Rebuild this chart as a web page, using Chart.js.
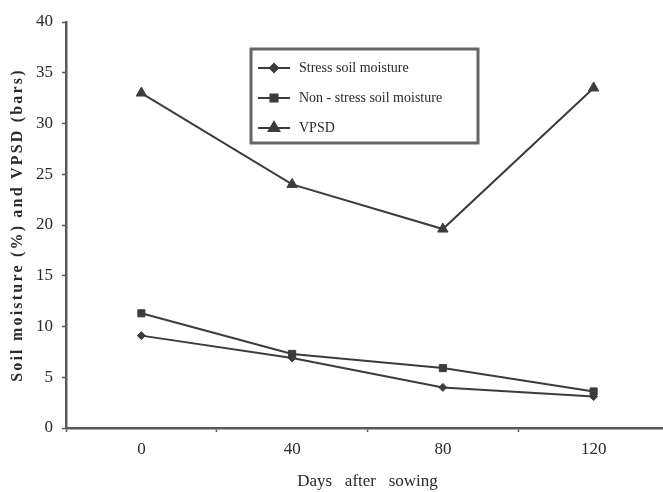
<!DOCTYPE html>
<html>
<head>
<meta charset="utf-8">
<script src="https://cdn.jsdelivr.net/npm/chart.js@4/dist/chart.umd.min.js"></script>
<style>
  html, body { margin: 0; padding: 0; background: #fff; overflow: hidden; }
  /* the original x axis runs a little past the right edge of the figure */
  #wrap { width: 663px; height: 492px; overflow: hidden; }
</style>
</head>
<body>
<div id="wrap"><canvas id="soilChart" width="676" height="492"></canvas></div>
<script>
// days after sowing
const days = ["0", "40", "80", "120"];

// soil moisture (%) and VPSD (bars)
const stressMoisture = [9.1, 6.9, 4.0, 3.1];
const nonStressMoisture = [11.3, 7.3, 5.9, 3.6];
const vpsd = [33.0, 24.0, 19.6, 33.5];

const yTicks = [0, 5, 10, 15, 20, 25, 30, 35, 40];

const ink = "#3c3c3c";
const axisInk = "#5a5a5a";
const textInk = "#2a2a2a";
const serif = "'Liberation Serif', 'Times New Roman', serif";

function series(label, values, pointStyle, radius) {
  return {
    label: label,
    data: values,
    borderColor: ink,
    backgroundColor: ink,
    borderWidth: 2,
    pointStyle: pointStyle,
    pointRadius: radius,
    pointBorderWidth: 1,
    tension: 0,
    fill: false,
  };
}

// the printed y title is set with loose letter spacing
const spacedTitle = {
  id: "spacedTitle",
  afterLayout(chart) {
    const scale = chart.scales.y;
    if (scale._spaced) return;
    const original = scale.drawTitle;
    scale.drawTitle = function () {
      const ctx = this.ctx;
      ctx.save();
      ctx.letterSpacing = "2.2px";
      original.apply(this, arguments);
      ctx.restore();
    };
    scale._spaced = true;
  },
};

// boxed legend sitting inside the plot, like the original figure
const boxedLegend = {
  id: "boxedLegend",
  afterDraw(chart) {
    const ctx = chart.ctx;
    const box = { x: 251, y: 49, w: 227, h: 94 };
    ctx.save();
    ctx.fillStyle = "#fff";
    ctx.fillRect(box.x, box.y, box.w, box.h);
    ctx.strokeStyle = "#666";
    ctx.lineWidth = 3;
    ctx.strokeRect(box.x, box.y, box.w, box.h);

    ctx.font = "14px " + serif;
    ctx.textBaseline = "middle";
    chart.data.datasets.forEach((ds, i) => {
      const y = box.y + 19 + i * 30;
      ctx.strokeStyle = ds.borderColor;
      ctx.lineWidth = 2;
      ctx.beginPath();
      ctx.moveTo(box.x + 7, y);
      ctx.lineTo(box.x + 39, y);
      ctx.stroke();
      ctx.fillStyle = ds.backgroundColor;
      Chart.helpers.drawPoint(ctx, {
        pointStyle: ds.pointStyle,
        radius: ds.pointRadius,
        rotation: 0,
        borderWidth: 1,
      }, box.x + 23, y);
      ctx.fillStyle = textInk;
      ctx.fillText(ds.label, box.x + 48, y);
    });
    ctx.restore();
  },
};

new Chart(document.getElementById("soilChart"), {
  type: "line",
  data: {
    labels: days,
    datasets: [
      series("Stress soil moisture", stressMoisture, "rectRot", 4),
      series("Non - stress soil moisture", nonStressMoisture, "rect", 5),
      series("VPSD", vpsd, "triangle", 6),
    ],
  },
  options: {
    responsive: false,
    devicePixelRatio: 1,
    animation: false,
    layout: { padding: { top: 22, right: 0, bottom: 0, left: 0 } },
    plugins: {
      legend: { display: false },
      tooltip: { enabled: false },
    },
    scales: {
      x: {
        type: "category",
        offset: true,
        grid: {
          offset: true,
          drawOnChartArea: false,
          drawTicks: true,
          tickLength: 4,
          tickColor: axisInk,
          tickWidth: 1.5,
        },
        border: { display: true, color: axisInk, width: 2.5 },
        ticks: {
          color: textInk,
          padding: 7,
          maxRotation: 0,
          font: { family: serif, size: 17 },
        },
        title: {
          display: true,
          text: "Days   after   sowing",
          color: textInk,
          padding: { top: 0, bottom: 0 },
          font: { family: serif, size: 17 },
        },
        afterFit(scale) {
          scale.height = 64;
        },
      },
      y: {
        min: 0,
        max: 40,
        afterBuildTicks(scale) {
          scale.ticks = yTicks.map((v) => ({ value: v }));
        },
        grid: {
          drawOnChartArea: false,
          drawTicks: true,
          tickLength: 4,
          tickColor: axisInk,
          tickWidth: 1.5,
        },
        border: { display: true, color: axisInk, width: 2.5 },
        ticks: {
          color: textInk,
          padding: 9,
          font: { family: serif, size: 17 },
        },
        title: {
          display: true,
          text: "Soil moisture (%) and VPSD (bars)",
          color: textInk,
          padding: { top: 8, bottom: 0 },
          font: { family: serif, size: 16, weight: "bold" },
        },
        afterFit(scale) {
          scale.width = 66;
        },
      },
    },
  },
  plugins: [spacedTitle, boxedLegend],
});
</script>
</body>
</html>
